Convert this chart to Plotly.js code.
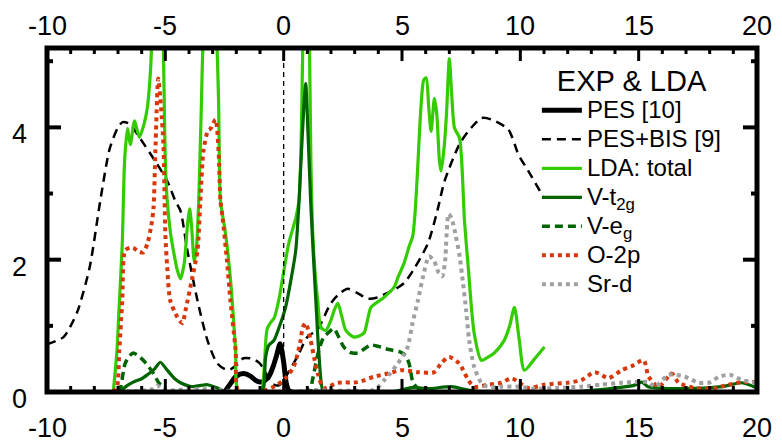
<!DOCTYPE html>
<html>
<head>
<meta charset="utf-8">
<script src="https://cdn.plot.ly/plotly-3.0.1.min.js"></script>
<style>
  html, body { margin: 0; padding: 0; background: #ffffff; }
  #dos { width: 782px; height: 445px; }
</style>
</head>
<body>
<div id="dos"></div>
<script>
// Photoemission spectrum (PES [10])
const pesE   = [-2.5, -2.3, -2.0, -1.7, -1.4, -1.2, -1.0, -0.8, -0.6, -0.45, -0.3, -0.15, 0.0, 0.1, 0.2, 0.35];
const pesI   = [0.0, 0.10, 0.24, 0.28, 0.24, 0.18, 0.15, 0.17, 0.25, 0.38, 0.55, 0.73, 0.45, 0.15, 0.03, 0.0];

// Combined PES + BIS spectrum [9]
const bisE   = [-10, -9.3, -9.0, -8.7, -8.2, -7.75, -7.35, -7.0, -6.8, -6.5, -6.06, -5.5, -4.92, -4.58, -4.36, -4.07,
                -3.64, -3.22, -2.8, -2.37, -2.0, -1.7, -1.3, -1.0, -0.7, -0.45, -0.2, 0.17, 0.6, 1.0, 1.44, 1.99,
                2.4, 2.71, 3.1, 3.56, 3.98, 4.4, 4.83, 5.1, 5.51, 6.1, 6.5, 6.8, 7.42, 7.8, 8.35, 8.77, 9.49, 9.92,
                10.34, 11.0];
const bisI   = [0.72, 0.83, 1.0, 1.23, 1.88, 2.89, 3.68, 4.0, 4.08, 4.05, 3.83, 3.53, 3.19, 2.89, 2.74, 2.14,
                1.38, 0.78, 0.43, 0.33, 0.40, 0.51, 0.50, 0.43, 0.25, 0.12, 0.10, 0.28, 0.55, 0.83, 0.95, 1.34,
                1.5, 1.56, 1.5, 1.41, 1.43, 1.5, 1.58, 1.65, 1.86, 2.25, 2.75, 3.19, 3.74, 3.94, 4.14, 4.12, 3.97, 3.59,
                3.34, 2.93];

// LDA total density of states
const ldaE   = [-7.2, -7.05, -6.95, -6.82, -6.72, -6.6, -6.48, -6.3, -6.1, -5.9, -5.76, -5.62, -5.5, -5.3, -5.12,
                -5.0, -4.92, -4.78, -4.66, -4.5, -4.36, -4.2, -4.07, -3.97, -3.88, -3.78, -3.68, -3.58, -3.48, -3.38,
                -3.1, -2.85, -2.75, -2.67, -2.5, -2.37, -2.2, -2.03, -1.9, -0.95, -0.88, -0.8, -0.7, -0.55, -0.4,
                -0.2, -0.04, 0.21, 0.51, 0.65, 0.75, 0.82, 0.95, 1.08, 1.15, 1.23, 1.35, 1.44, 1.57, 1.78, 1.99,
                2.15, 2.29, 2.45, 2.63, 2.97, 3.39, 3.55, 3.69, 4.24, 4.66, 4.85, 5.08, 5.3, 5.45, 5.55, 5.65,
                5.8, 5.92, 6.02, 6.13, 6.23, 6.37, 6.47, 6.58, 6.65, 6.78, 6.88, 7.0, 7.1, 7.22, 7.43, 7.64,
                7.8, 8.05, 8.35, 8.6, 8.9, 9.32, 9.55, 9.75, 9.95, 10.17, 10.6, 11.02];
const ldaD   = [0.0, 0.6, 1.3, 2.24, 3.5, 3.98, 3.74, 4.1, 3.85, 4.05, 4.3, 4.9, 6.0, 7.0, 5.8,
                3.5, 2.89, 2.4, 2.14, 1.85, 1.71, 1.95, 2.5, 2.77, 2.45, 1.98, 2.2, 3.0, 4.3, 5.5,
                6.5, 5.5, 4.4, 2.89, 2.5, 2.14, 1.5, 0.63, 0.0, 0.0, 0.1, 0.5, 0.95, 1.05, 1.12,
                1.4, 1.73, 2.24, 2.63, 2.9, 4.0, 5.5, 7.0, 5.5, 3.5, 2.39, 1.7, 1.38, 0.98, 0.93, 1.08,
                1.25, 1.34, 1.15, 0.93, 0.83, 0.89, 1.1, 1.28, 1.43, 1.58, 1.75, 1.94, 2.2, 2.35, 2.7, 3.3,
                4.3, 4.72, 4.75, 4.3, 3.94, 4.44, 4.2, 3.5, 3.34, 3.7, 4.2, 5.04, 4.5, 3.99, 3.84, 2.59,
                1.88, 0.89, 0.48, 0.52, 0.59, 0.78, 1.0, 1.28, 0.8, 0.33, 0.5, 0.68];

// V-t2g projected density of states
const t2gE   = [-7.0, -6.9, -6.6, -6.36, -6.0, -5.76, -5.45, -5.21, -4.92, -4.6, -4.36, -4.0, -3.81, -3.5, -3.22,
                -2.8, -2.4, -0.9, -0.83, -0.76, -0.62, -0.41, -0.13, 0.08, 0.3, 0.51, 0.65, 0.79, 0.93, 1.03,
                1.14, 1.25, 1.36, 1.48, 1.65, 1.8, 4.5, 5.5, 6.1, 7.08, 7.8, 8.5, 12.0, 13.98, 14.8, 15.13, 15.4,
                16.8, 18.5, 19.36, 20.0];
const t2gD   = [0.0, 0.02, 0.1, 0.15, 0.2, 0.26, 0.35, 0.45, 0.33, 0.2, 0.14, 0.09, 0.08, 0.1, 0.11,
                0.06, 0.0, 0.0, 0.1, 0.53, 0.71, 0.78, 1.04, 1.28, 1.68, 2.14, 2.89, 3.9, 4.66, 3.9,
                2.89, 2.1, 1.38, 0.63, 0.03, 0.0, 0.0, 0.07, 0.05, 0.08, 0.03, 0.0, 0.0, 0.06, 0.1, 0.15, 0.08,
                0.05, 0.08, 0.14, 0.06];

// V-eg projected density of states
const egE    = [-7.0, -6.9, -6.8, -6.7, -6.5, -6.36, -6.15, -5.93, -5.7, -5.5, -5.3, -5.08, -4.9, 1.1, 1.2,
                1.36, 1.5, 1.69, 1.9, 2.12, 2.3, 2.54, 2.8, 3.14, 3.4, 3.69, 4.0, 4.24, 4.6, 4.96, 5.15, 5.3,
                5.47, 5.7, 5.93, 6.3];
const egD    = [0.0, 0.05, 0.25, 0.43, 0.55, 0.59, 0.55, 0.48, 0.38, 0.28, 0.15, 0.06, 0.0, 0.0, 0.15,
                0.43, 0.65, 0.83, 0.9, 0.96, 0.85, 0.68, 0.6, 0.59, 0.65, 0.71, 0.69, 0.66, 0.63, 0.6, 0.55, 0.43,
                0.14, 0.05, 0.03, 0.0];

// O-2p projected density of states
const o2pE   = [-7.2, -7.03, -6.95, -6.82, -6.7, -6.5, -6.36, -6.1, -5.93, -5.76, -5.6, -5.5, -5.42, -5.3, -5.18,
                -5.08, -5.0, -4.92, -4.79, -4.49, -4.28, -4.15, -3.86, -3.64, -3.52, -3.39, -3.2, -3.09, -2.88,
                -2.75, -2.67, -2.58, -2.4, -2.25, -2.03, -1.9, -1.0, -0.42, 0.0, 0.42, 0.7, 0.81, 0.93, 1.14, 1.3,
                1.44, 1.69, 2.29, 3.14, 3.81, 4.41, 4.96, 5.68, 6.36, 6.65, 6.99, 7.42, 7.8, 8.05, 8.64, 9.2,
                9.62, 9.92, 10.34, 11.0, 12.0, 12.58, 13.14, 13.73, 14.28, 14.7, 15.21, 15.42, 15.85, 16.4,
                16.69, 17.37, 18.2, 18.8, 19.36, 20.0];
const o2pD   = [0.0, 0.1, 0.6, 1.38, 2.14, 2.18, 2.18, 2.12, 2.11, 2.24, 2.5, 2.78, 3.64, 4.74, 4.3,
                3.74, 2.39, 1.88, 1.38, 1.13, 1.04, 1.23, 1.73, 2.14, 2.89, 3.64, 3.95, 3.98, 4.12,
                3.64, 2.89, 2.63, 2.0, 1.38, 0.63, 0.0, 0.0, 0.08, 0.18, 0.38, 0.75, 0.98, 1.04, 0.78, 0.5,
                0.28, 0.06, 0.14, 0.15, 0.23, 0.28, 0.33, 0.3, 0.3, 0.43, 0.53, 0.43, 0.18, 0.08, 0.11, 0.14,
                0.21, 0.15, 0.06, 0.11, 0.14, 0.18, 0.3, 0.21, 0.33, 0.39, 0.48, 0.23, 0.08, 0.28,
                0.14, 0.06, 0.06, 0.11, 0.15, 0.15];

// Sr-d projected density of states
const srdE   = [-7.0, -6.0, -5.5, -5.34, -5.1, -4.5, -4.0, -3.5, -3.0, -2.5, 0.5, 1.0, 2.0, 3.0, 3.69, 4.0,
                4.25, 4.5, 4.82, 5.05, 5.24, 5.45, 5.67, 5.88, 6.14, 6.36, 6.55, 6.7, 6.82, 6.97, 7.1, 7.25,
                7.42, 7.58, 7.71, 7.84, 8.05, 8.35, 8.6, 9.2, 9.92, 10.6, 11.5, 12.58, 13.4, 14.28, 14.83, 15.42,
                15.68, 16.27, 16.95, 17.54, 17.97, 18.4, 18.86, 19.36, 19.8, 20.0];
const srdD   = [0.0, 0.02, 0.05, 0.1, 0.03, 0.03, 0.05, 0.04, 0.05, 0.02, 0.0, 0.03, 0.02, 0.02, 0.02, 0.08,
                0.18, 0.28, 0.43, 0.55, 0.68, 1.05, 1.38, 1.73, 2.05, 1.98, 1.8, 1.75, 1.98, 2.69, 2.62, 2.4,
                2.09, 1.64, 1.23, 0.78, 0.38, 0.14, 0.08, 0.08, 0.08, 0.05, 0.06, 0.08, 0.11, 0.14, 0.15, 0.15,
                0.08, 0.26, 0.23, 0.14, 0.14, 0.23, 0.26, 0.18, 0.15, 0.12];

// Axis setup
const energyRange = [-10, 20];
const dosRange    = [0, 5.2];
const xTickVals   = [-10, -5, 0, 5, 10, 15, 20];
const xTickText   = ['-10', '-5', '0', '5', '10', '15', '20'];
const yTickVals   = [0, 2, 4];
const yTickText   = ['0', '2', '4'];
const fermiLevel  = 0;

const FONT = 'Liberation Sans, Arial, sans-serif';

const LDA_GREEN  = 'rgb(51,204,0)';
const DARK_GREEN = 'rgb(0,100,0)';
const O_RED      = 'rgb(214,56,12)';
const SR_GRAY    = 'rgb(160,160,160)';

// legend labels use a larger glyph size than the row pitch implies
const big = s => '<span style="font-size:24px">' + s + '</span>';

function curve(x, y, name, color, width, dash) {
  return {
    type: 'scatter', mode: 'lines', x: x, y: y, name: big(name),
    line: { color: color, width: width, dash: dash, shape: 'spline', smoothing: 0.7 }
  };
}

const traces = [
  curve(pesE, pesI, 'PES [10]', '#000000', 5, 'solid'),
  curve(bisE, bisI, 'PES+BIS [9]', '#000000', 2.5, '9px,6px'),
  curve(ldaE, ldaD, 'LDA: total', LDA_GREEN, 3.2, 'solid'),
  curve(t2gE, t2gD, 'V-t<sub>2g</sub>', DARK_GREEN, 3.2, 'solid'),
  curve(egE, egD, 'V-e<sub>g</sub>', DARK_GREEN, 3.5, '8px,5px'),
  curve(o2pE, o2pD, 'O-2p', O_RED, 4, '4px,4px'),
  curve(srdE, srdD, 'Sr-d', SR_GRAY, 4, '4px,4px')
];

const labelFont = { family: FONT, size: 27, color: '#000000' };

// tick labels: energies along the top and bottom edges, DOS along the left edge
const tickLabels = [].concat(
  xTickVals.map((v, i) => ({
    x: v, xref: 'x', y: 1, yref: 'paper', xanchor: 'center', yanchor: 'bottom',
    text: xTickText[i], showarrow: false, font: labelFont, yshift: 5
  })),
  xTickVals.map((v, i) => ({
    x: v, xref: 'x', y: 0, yref: 'paper', xanchor: 'center', yanchor: 'bottom',
    text: xTickText[i], showarrow: false, font: labelFont, yshift: -53
  })),
  yTickVals.map((v, i) => ({
    x: 0, xref: 'paper', y: v, yref: 'y', xanchor: 'right', yanchor: 'bottom',
    text: yTickText[i], showarrow: false, font: labelFont, xshift: -18, yshift: -24
  }))
);

// heavy box frame with inward ticks on all four sides (long at labelled values, short at every unit)
const frame = [{
  type: 'rect', xref: 'paper', yref: 'paper', x0: 0, x1: 1, y0: 0, y1: 1,
  line: { color: '#000000', width: 5 }, fillcolor: 'rgba(0,0,0,0)'
}];
for (let e = energyRange[0]; e <= energyRange[1]; e += 1) {
  const len = xTickVals.includes(e) ? 13 : 6;
  [[0, len], [1, -len]].forEach(([edge, l]) => frame.push({
    type: 'line', xref: 'x', x0: e, x1: e,
    yref: 'paper', ysizemode: 'pixel', yanchor: edge, y0: 0, y1: l,
    line: { color: '#000000', width: 3 }
  }));
}
for (let d = 0; d <= dosRange[1]; d += 1) {
  const len = yTickVals.includes(d) ? 14 : 6;
  [[0, len], [1, -len]].forEach(([edge, l]) => frame.push({
    type: 'line', yref: 'y', y0: d, y1: d,
    xref: 'paper', xsizemode: 'pixel', xanchor: edge, x0: 0, x1: l,
    line: { color: '#000000', width: 4 }
  }));
}

const layout = {
  width: 782,
  height: 445,
  margin: { l: 47, r: 25, t: 48, b: 53 },
  showlegend: true,
  xaxis: {
    range: energyRange, showline: false, ticks: '', showgrid: false, zeroline: false, showticklabels: false
  },
  yaxis: {
    range: dosRange, showline: false, ticks: '', showgrid: false, zeroline: false, showticklabels: false
  },
  annotations: tickLabels,
  legend: {
    x: 0.69, y: 0.985, xanchor: 'left', yanchor: 'top',
    bgcolor: 'rgba(0,0,0,0)', borderwidth: 0,
    font: { family: FONT, size: 20, color: '#000000' },
    title: { text: 'EXP &amp; LDA', side: 'top center', font: { family: FONT, size: 29, color: '#000000' } },
    itemwidth: 40
  },
  shapes: [{
    type: 'line', xref: 'x', yref: 'paper',
    x0: fermiLevel, x1: fermiLevel, y0: 0, y1: 1,
    line: { color: '#000000', width: 1.3, dash: '5px,4px' }
  }].concat(frame)
};

Plotly.newPlot('dos', traces, layout, { displayModeBar: false, staticPlot: true });
</script>
</body>
</html>
